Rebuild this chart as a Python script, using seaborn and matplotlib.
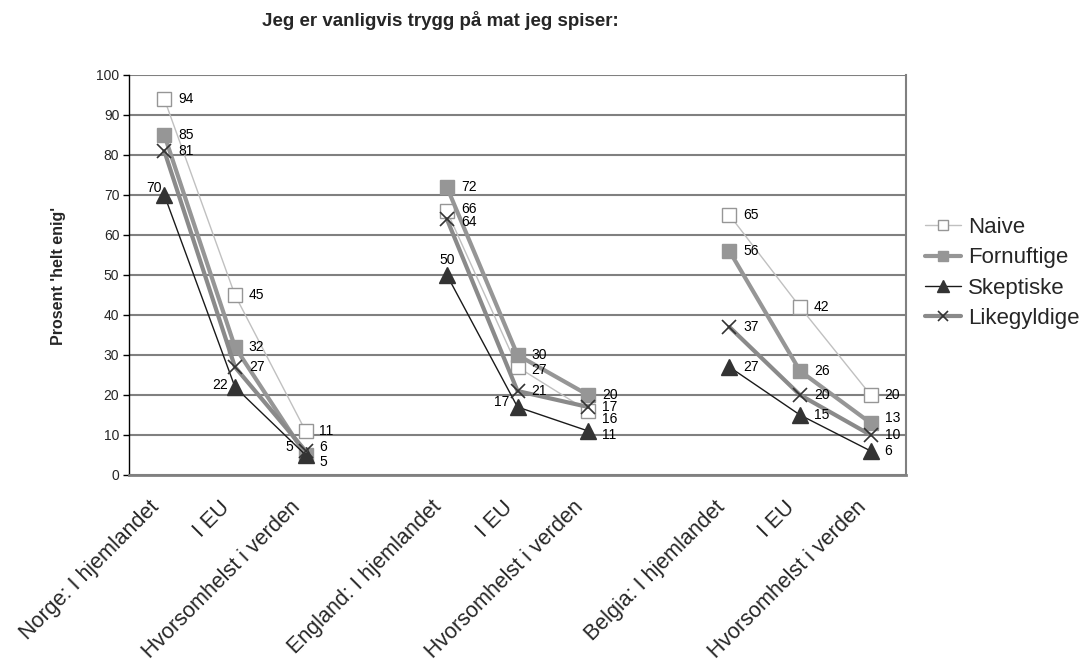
import numpy as np
import pandas as pd
import matplotlib.pyplot as plt
import matplotlib.transforms as mtransforms
import seaborn as sns
from matplotlib.lines import Line2D

# Categories on the x axis (blank slots separate the countries)
categories = ["Norge: I hjemlandet", "I EU", "Hvorsomhelst i verden", "",
              "England: I hjemlandet", "I EU", "Hvorsomhelst i verden", "",
              "Belgia: I hjemlandet", "I EU", "Hvorsomhelst i verden"]
countries = ["Norge", "Norge", "Norge", None,
             "England", "England", "England", None,
             "Belgia", "Belgia", "Belgia"]

# Percent 'helt enig' per group
naive = [94, 45, 11, None, 66, 27, 16, None, 65, 42, 20]
fornuftige = [85, 32, 5, None, 72, 30, 20, None, 56, 26, 13]
skeptiske = [70, 22, 5, None, 50, 17, 11, None, 27, 15, 6]
likegyldige = [81, 27, 6, None, 64, 21, 17, None, 37, 20, 10]

series = {"Naive": naive, "Fornuftige": fornuftige,
          "Skeptiske": skeptiske, "Likegyldige": likegyldige}

# Long table for seaborn
rows = []
for name, vals in series.items():
    for i, v in enumerate(vals):
        if v is not None:
            rows.append({"pos": i, "value": v, "group": name, "country": countries[i]})
df = pd.DataFrame(rows)

# Line / marker styles
styles = {
    "Naive": dict(color="#c0c0c0", lw=1.0, marker="s", markersize=10,
                  markerfacecolor="white", markeredgecolor="#969696", markeredgewidth=1.0),
    "Fornuftige": dict(color="#969696", lw=3.0, marker="s", markersize=9.5,
                       markerfacecolor="#969696", markeredgecolor="#969696", markeredgewidth=1.0),
    "Skeptiske": dict(color="#1a1a1a", lw=1.0, marker="^", markersize=11,
                      markerfacecolor="#333333", markeredgecolor="#333333", markeredgewidth=1.0),
    "Likegyldige": dict(color="#8a8a8a", lw=3.0, marker="x", markersize=10,
                        markerfacecolor="#333333", markeredgecolor="#333333", markeredgewidth=1.2),
}

# Data label placement tweaks: (ha, dx, dy) in points, default is to the right
label_adjust = {
    ("Naive", 4): ("left", 10, 1.5),
    ("Naive", 5): ("left", 10, -2),
    ("Naive", 6): ("left", 10, -6),
    ("Fornuftige", 2): ("left", 10, -5),
    ("Fornuftige", 10): ("left", 10, 3.5),
    ("Skeptiske", 0): ("right", -2, 5),
    ("Skeptiske", 1): ("right", -5, 1.5),
    ("Skeptiske", 2): ("right", -9, 6),
    ("Skeptiske", 4): ("center", 0, 11),
    ("Skeptiske", 5): ("right", -6, 3.5),
    ("Skeptiske", 6): ("left", 10, -3),
    ("Likegyldige", 2): ("left", 10, 3),
    ("Likegyldige", 4): ("left", 10, -2.5),
}

sns.set_style("white")
plt.rcParams["font.family"] = ["Liberation Sans", "DejaVu Sans"]

fig = plt.figure(figsize=(10.84, 6.68), dpi=100)
ax = fig.add_axes([129 / 1084, 1 - 475 / 668, 777 / 1084, 400 / 668])

for k, name in enumerate(series):
    sub = df[df["group"] == name]
    sns.lineplot(data=sub, x="pos", y="value", units="country", estimator=None,
                 ax=ax, legend=False, zorder=3 + k, **styles[name])

# Data labels
for name, vals in series.items():
    for i, v in enumerate(vals):
        if v is None:
            continue
        ha, dx, dy = label_adjust.get((name, i), ("left", 10, 0))
        ax.annotate(str(v), (i, v), xytext=(dx, dy), textcoords="offset points",
                    ha=ha, va="center", fontsize=10, color="black", zorder=10)

# Axes styling
ax.set_xlim(-0.5, 10.5)
ax.set_ylim(0, 100)
ax.set_yticks(range(0, 101, 10))
ax.yaxis.grid(True, color="#808080", lw=1.5)
ax.set_axisbelow(True)
ax.set_xlabel("")
ax.set_ylabel("")

ax.set_xticks(range(len(categories)))
ax.set_xticklabels(categories, rotation=45, ha="right", va="center",
                   rotation_mode="anchor", fontsize=15.5)
ax.set_xticks(np.arange(-0.5, 11, 1), minor=True)
ax.tick_params(axis="x", which="major", length=0, pad=21)
ax.tick_params(axis="x", which="minor", length=5, width=1, color="black", direction="out")
ax.tick_params(axis="y", length=4, width=1, color="black", direction="out",
               labelsize=10, pad=3, left=True)

# nudge the rotated category labels a little to the left
shift = mtransforms.ScaledTranslation(-8 / 100, 0, fig.dpi_scale_trans)
for lbl in ax.get_xticklabels():
    lbl.set_transform(lbl.get_transform() + shift)

ax.spines["top"].set_visible(False)
ax.spines["right"].set_color("#808080")
ax.spines["right"].set_linewidth(1.5)
ax.spines["bottom"].set_color("#808080")
ax.spines["bottom"].set_linewidth(2)
ax.spines["left"].set_color("black")
ax.spines["left"].set_linewidth(1)

# Legend
handles = [Line2D([], [], **styles[name]) for name in series]
fig.legend(handles, list(series.keys()), loc="center left",
           bbox_to_anchor=(925 / 1084, 1 - 273 / 668), bbox_transform=fig.transFigure,
           frameon=False, fontsize=16, handlelength=1.6, handletextpad=0.35,
           labelspacing=0.42, borderpad=0, borderaxespad=0, markerscale=0.75)

fig.text(440 / 1084, 1 - 20 / 668, "Jeg er vanligvis trygg på mat jeg spiser:",
         ha="center", va="center", fontsize=13.5, fontweight="bold")
fig.text(59 / 1084, 1 - 276 / 668, "Prosent 'helt enig'", rotation=90,
         ha="center", va="center", fontsize=11.5, fontweight="bold")

fig.savefig("out.png", dpi=100)
